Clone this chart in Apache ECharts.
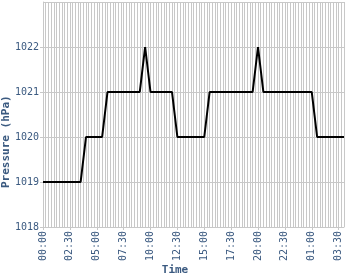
<!DOCTYPE html>
<html>
<head>
<meta charset="utf-8">
<script src="https://cdn.jsdelivr.net/npm/echarts@6/dist/echarts.min.js"></script>
<style>html,body{margin:0;padding:0;background:#fff;}#c{width:350px;height:280px;}</style>
</head>
<body>
<div id="c"></div>
<script>
// Observation times, minutes from 00:00 of the first day (every 30 min, to 04:00 next day)
var obsMinutes = [0,30,60,90,120,150,180,210,240,270,300,330,360,390,420,450,480,510,540,570,600,630,660,690,720,750,780,810,840,870,900,930,960,990,1020,1050,1080,1110,1140,1170,1200,1230,1260,1290,1320,1350,1380,1410,1440,1470,1500,1530,1560,1590,1620,1650,1680];
// Pressure (hPa)
var pressure = [1019,1019,1019,1019,1019,1019,1019,1019,
  1020,1020,1020,1020,
  1021,1021,1021,1021,1021,1021,1021,
  1022,
  1021,1021,1021,1021,1021,
  1020,1020,1020,1020,1020,1020,
  1021,1021,1021,1021,1021,1021,1021,1021,1021,
  1022,
  1021,1021,1021,1021,1021,1021,1021,1021,1021,1021,
  1020,1020,1020,1020,1020,1020];
// Axis grid: one category every 15 minutes
var gridStepMin = 15;
var axisEndMin = 1680;
var yTicks = [1018,1019,1020,1021,1022,1023];

var categories = [];
for (var m = 0; m <= axisEndMin; m += gridStepMin) categories.push(String(m));
function fmt(m) {
  m = Number(m) % 1440;
  var h = Math.floor(m / 60), mm = m % 60;
  return (h < 10 ? '0' : '') + h + ':' + (mm < 10 ? '0' : '') + mm;
}
var seriesData = obsMinutes.map(function (t, i) { return [String(t), pressure[i]]; });

var txt = '#3b5a80';
var gridCol = '#c8c8c8';
var chart = echarts.init(document.getElementById('c'), null, {renderer: 'canvas'});
chart.setOption({
  animation: false,
  grid: {left: 43, right: 6, top: 2, bottom: 53, containLabel: false},
  xAxis: {
    type: 'category',
    data: categories,
    boundaryGap: false,
    axisLine: {show: true, lineStyle: {color: gridCol, width: 1}},
    axisTick: {show: true, interval: 9, length: 3, lineStyle: {color: gridCol}},
    splitLine: {show: true, interval: 0, lineStyle: {color: gridCol, width: 1}},
    axisLabel: {
      interval: 9, rotate: 90, margin: 4, color: txt,
      fontFamily: 'DejaVu Sans Mono', fontSize: 10,
      formatter: function (v) { return fmt(v); }
    }
  },
  yAxis: {
    type: 'value',
    min: yTicks[0], max: yTicks[yTicks.length - 1], interval: 1,
    axisLine: {show: true, lineStyle: {color: gridCol, width: 1}},
    axisTick: {show: true, length: 3, lineStyle: {color: gridCol}},
    splitLine: {show: true, lineStyle: {color: gridCol, width: 1}},
    axisLabel: {
      showMaxLabel: false, margin: 4, color: txt,
      fontFamily: 'DejaVu Sans Mono', fontSize: 10,
      formatter: function (v) { return String(v); }
    }
  },
  graphic: [
    {type: 'text', left: 'center', top: 265,
     style: {text: 'Time', fill: txt, font: 'bold 11px "DejaVu Sans Mono"'}},
    {type: 'text', x: 1, y: 188, rotation: Math.PI / 2,
     style: {text: 'Pressure (hPa)', fill: txt, font: 'bold 11px "DejaVu Sans Mono"'}}
  ],
  series: [{
    type: 'line',
    data: seriesData,
    showSymbol: false,
    symbol: 'none',
    lineStyle: {color: '#000', width: 2},
    z: 5
  }]
});
</script>
</body>
</html>
